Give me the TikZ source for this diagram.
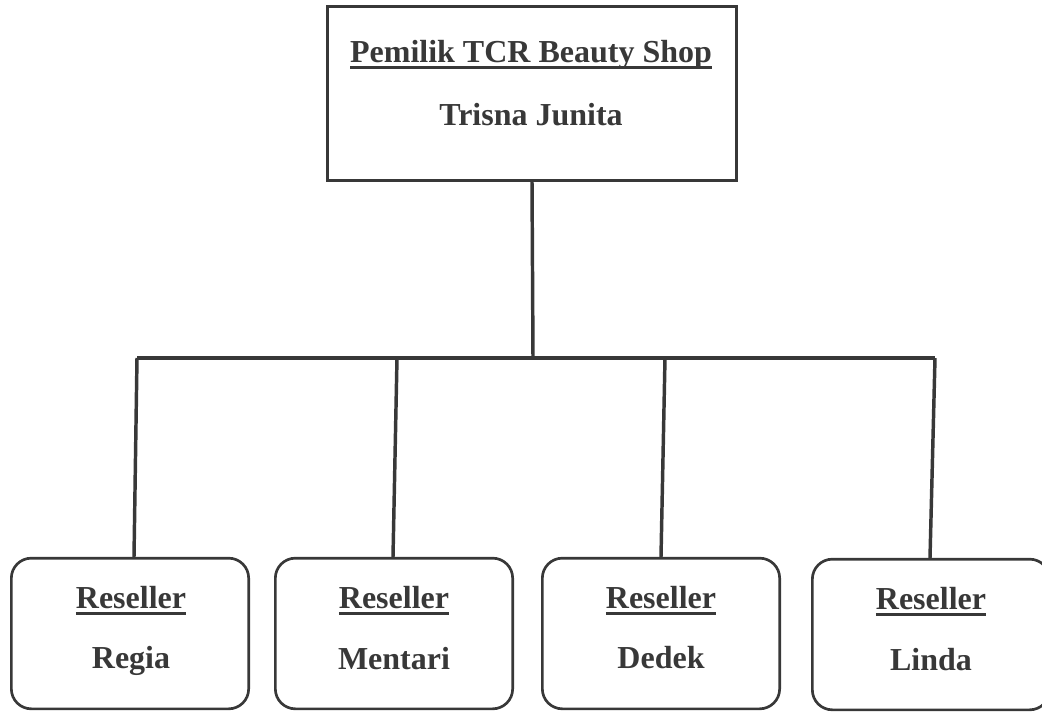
\documentclass[tikz,border=0pt]{standalone}
\usepackage{fontspec}
\setmainfont{Liberation Serif}
\usepackage{tikz}

\definecolor{ink}{HTML}{383838}
\newcommand{\ulword}[1]{\setbox0\hbox{#1}\rlap{\rule[-5pt]{\wd0}{2.2pt}}\box0}

\begin{document}
\begin{tikzpicture}[x=0.75pt,y=-0.75pt]

\tikzstyle{owner}=[rectangle,draw=ink,line width=2.4pt,minimum width=307pt,minimum height=130pt]
\tikzstyle{reseller}=[rectangle,draw=ink,line width=2pt,rounded corners=15pt,minimum width=178pt,minimum height=113pt]
\tikzstyle{caption}=[anchor=base,text=ink,inner sep=0pt,font=\fontsize{24}{29}\selectfont\bfseries]
\tikzstyle{link}=[draw=ink,line width=2.6pt]

\useasboundingbox (0,0) rectangle (1042,711);

\node[owner] (owner) at (532,93.5) {};
\node[caption] (ownertitle) at (531,62) {\ulword{Pemilik TCR Beauty Shop}};
\node[caption] (ownername) at (531,125) {Trisna Junita};

\node[reseller] (regia) at (130,633.5) {};
\node[reseller] (mentari) at (394,633.5) {};
\node[reseller] (dedek) at (661,633.5) {};
\node[reseller] (linda) at (931,634.5) {};

\node[caption] (regiatitle) at (131,608) {\ulword{Reseller}};
\node[caption] (regianame) at (131,668) {Regia};
\node[caption] (mentarititle) at (394,608) {\ulword{Reseller}};
\node[caption] (mentariname) at (394,669) {Mentari};
\node[caption] (dedektitle) at (661,608) {\ulword{Reseller}};
\node[caption] (dedekname) at (661,668) {Dedek};
\node[caption] (lindatitle) at (931,609) {\ulword{Reseller}};
\node[caption] (lindaname) at (931,670) {Linda};

\coordinate (hub) at (533,358);
\coordinate (busregia) at (137,358);
\coordinate (busmentari) at (397,358);
\coordinate (busdedek) at (665,358);
\coordinate (buslinda) at (935,358);

\draw[link] (owner.south) -- (hub);
\draw[link,line width=3pt] (busregia) -- (buslinda);
\draw[link] (busregia) -- ([xshift=3pt]regia.north);
\draw[link] (busmentari) -- ([xshift=-0.75pt]mentari.north);
\draw[link] (busdedek) -- (dedek.north);
\draw[link] (buslinda) -- ([xshift=-0.75pt]linda.north);
\end{tikzpicture}
\end{document}
